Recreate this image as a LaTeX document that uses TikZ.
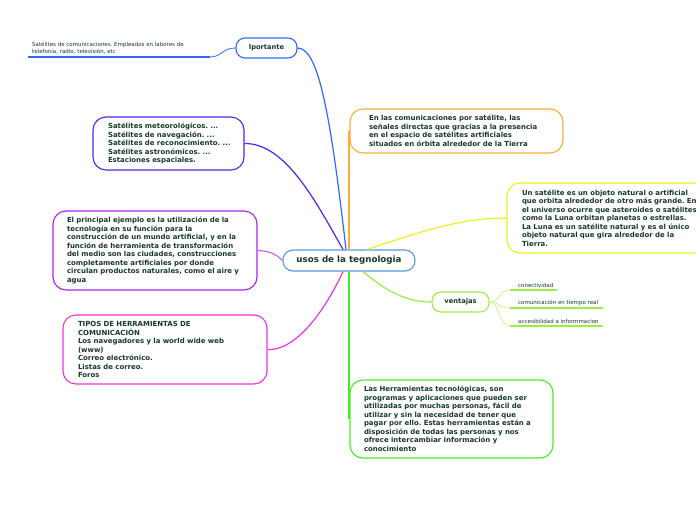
\documentclass[tikz,border=0pt]{standalone}
\usepackage{fontspec}
\setmainfont{DejaVu Sans}
\frenchspacing
\definecolor{txt}{HTML}{163826}
\definecolor{cblue}{HTML}{3366FF}
\definecolor{csat}{HTML}{5522EE}
\definecolor{cpur}{HTML}{AA22EE}
\definecolor{cpurl}{HTML}{CC66EE}
\definecolor{cmag}{HTML}{EE33DD}
\definecolor{corange}{HTML}{FFAA33}
\definecolor{cyellow}{HTML}{EEEE22}
\definecolor{cvent}{HTML}{99EE44}
\definecolor{cventl}{HTML}{CCF599}
\definecolor{cgreen}{HTML}{44EE22}
\definecolor{ccenter}{HTML}{5599DD}
\tikzset{
  every node/.style={text=txt},
  bigbox/.style={draw, line width=1.1pt, rounded corners=13pt, align=left, inner ysep=0pt,
    font=\fontsize{6.95}{8.5}\selectfont\bfseries, anchor=center},
  smallbox/.style={draw, line width=1.1pt, rounded corners=9pt, inner sep=0pt,
    font=\fontsize{6.7}{8}\selectfont\bfseries, anchor=center},
  conn/.style={line width=1.2pt},
  subtxt/.style={font=\fontsize{5.5}{6.8}\selectfont, inner sep=0pt, align=left, anchor=south west},
}
\begin{document}
\begin{tikzpicture}[x=1pt,y=-1pt]
\useasboundingbox (0,0) rectangle (696,520);

% central node
\node[smallbox, draw=ccenter, minimum width=132pt, minimum height=21pt, rounded corners=10pt,
  font=\fontsize{8.7}{10}\selectfont\bfseries] (center) at (349,260.5) {usos de la tegnologia};

% Iportante
\node[smallbox, draw=cblue, minimum width=61pt, minimum height=20pt] (iport) at (266.5,48) {Iportante};
\node[subtxt, anchor=south west] (iporttxt) at (32,54.5) {Satélites de comunicaciones. Empleados en labores de\\telefonía, radio, televisión, etc};
\coordinate (iportbend) at (210,57);
\coordinate (iportend) at (28,57);
\draw[cblue, line width=0.8pt] (iport.west) .. controls (222,48) and (222,57) .. (iportbend);
\draw[cblue, line width=1.8pt] (iportbend) -- (iportend);
\draw[cblue, conn] (iport.east) .. controls (318,48) and (330,110) .. ([xshift=-3pt]center.north);

% Satellites box
\node[bigbox, draw=csat, minimum width=151pt, minimum height=53pt, text width=121pt, inner xsep=15pt] (sat) at (168.5,143.5)
 {Satélites meteorológicos. ...\\Satélites de navegación. ...\\\leavevmode\rlap{Satélites de reconocimiento. ...}\\Satélites astronómicos. ...\\Estaciones espaciales.};
\draw[csat, conn] (sat.east) .. controls (285,143) and (315,200) .. ([xshift=-6pt]center.north);

% El principal
\node[bigbox, draw=cpur, minimum width=204pt, minimum height=79pt, text width=176pt, inner xsep=14pt] (princ) at (155,250.5)
 {El principal ejemplo es la utilización de la\\tecnología en su función para la\\construcción de un mundo artificial, y en la\\función de herramienta de transformación\\del medio son las ciudades, construcciones\\completamente artificiales por donde\\circulan productos naturales, como el aire y\\agua};
\draw[cpurl, conn] (princ.east) .. controls (268,251) and (275,253) .. (center.west);

% TIPOS
\node[bigbox, draw=cmag, minimum width=204pt, minimum height=69pt, text width=174pt, inner xsep=15pt] (tipos) at (165,349.5)
 {TIPOS DE HERRAMIENTAS DE\\COMUNICACIÓN\\Los navegadores y la world wide web\\(www)\\Correo electrónico.\\Listas de correo.\\Foros};
\draw[cmag, conn] (tipos.east) .. controls (300,351) and (330,300) .. ([xshift=-6pt]center.south);

% Orange
\node[bigbox, draw=corange, minimum width=213pt, minimum height=44pt, text width=175pt, inner xsep=19pt] (orange) at (456.5,131)
 {En las comunicaciones por satélite, las\\señales directas que gracias a la presencia\\en el espacio de satélites artificiales\\situados en órbita alrededor de la Tierra};
\draw[corange, conn] (center.north) -- (center.north |- orange.west);

% Yellow
\node[bigbox, draw=cyellow, minimum width=205pt, minimum height=70pt, text width=175pt, inner xsep=15pt] (yellow) at (609.5,218)
 {Un satélite es un objeto natural o artificial\\que orbita alrededor de otro más grande. En\\el universo ocurre que asteroides o satélites\\como la Luna orbitan planetas o estrellas.\\La Luna es un satélite natural y es el único\\objeto natural que gira alrededor de la\\Tierra.};
\draw[cyellow, conn] ([xshift=18pt]center.north) .. controls (420,232) and (460,218) .. (yellow.west);

% ventajas
\node[smallbox, draw=cvent, minimum width=57pt, minimum height=20pt] (vent) at (460.5,302) {ventajas};
\draw[cvent, conn] ([xshift=14pt]center.south) .. controls (385,290) and (405,302) .. (vent.west);

\node[subtxt] (v1) at (518,287.5) {conectividad};
\node[subtxt] (v2) at (518,305.5) {comunicación en tiempo real};
\node[subtxt] (v3) at (518,323.5) {accesibilidad a informmacion};
\coordinate (v1a) at (510,290); \coordinate (v1b) at (557,290);
\coordinate (v2a) at (510,308); \coordinate (v2b) at (603,308);
\coordinate (v3a) at (510,326); \coordinate (v3b) at (603,326);
\draw[cventl, line width=0.8pt] (vent.east) .. controls (500,302) and (498,290) .. (v1a);
\draw[cventl, line width=0.8pt] (vent.east) .. controls (500,302) and (498,308) .. (v2a);
\draw[cventl, line width=0.8pt] (vent.east) .. controls (500,302) and (498,326) .. (v3a);
\draw[cvent, line width=1.8pt] (v1a) -- (v1b);
\draw[cvent, line width=1.8pt] (v2a) -- (v2b);
\draw[cvent, line width=1.8pt] (v3a) -- (v3b);

% Green
\node[bigbox, draw=cgreen, minimum width=203pt, minimum height=78pt, text width=175pt, inner xsep=14pt] (green) at (451.5,419)
 {Las Herramientas tecnológicas, son\\programas y aplicaciones que pueden ser\\utilizadas por muchas personas, fácil de\\utilizar y sin la necesidad de tener que\\pagar por ello. Estas herramientas están a\\disposición de todas las personas y nos\\ofrece intercambiar información y\\conocimiento};
\draw[cgreen, conn] (center.south) -- (center.south |- green.west);
\end{tikzpicture}
\end{document}
